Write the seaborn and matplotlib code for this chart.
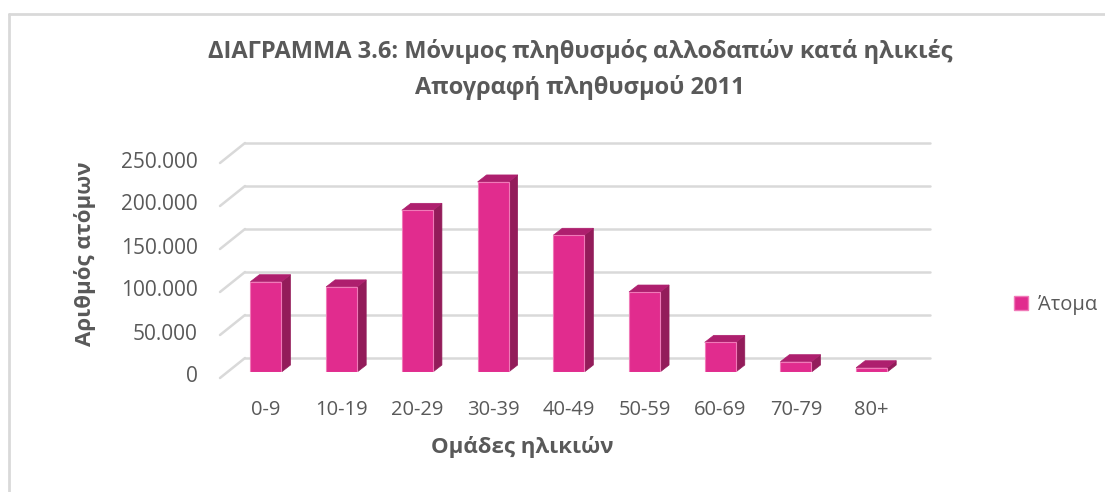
import numpy as np
import pandas as pd
import matplotlib
matplotlib.use("Agg")
import matplotlib.pyplot as plt
import matplotlib.transforms as mtransforms
from matplotlib.patches import Polygon, Rectangle
from matplotlib.lines import Line2D
import seaborn as sns

# Age groups and resident foreign population (persons)
age_groups = ["0-9", "10-19", "20-29", "30-39", "40-49", "50-59", "60-69", "70-79", "80+"]
persons = [105000, 99000, 188000, 221000, 159000, 93000, 34500, 12000, 5000]
y_ticks = [0, 50000, 100000, 150000, 200000, 250000]
y_tick_labels = ["0", "50.000", "100.000", "150.000", "200.000", "250.000"]

df = pd.DataFrame({"group": age_groups, "persons": persons})

sns.set_theme(style="white")
FONT = ["Open Sans", "DejaVu Sans"]
plt.rcParams["font.family"] = FONT

W, H, DPI = 1105, 492, 100
fig = plt.figure(figsize=(W / DPI, H / DPI), dpi=DPI)
fig.patch.set_facecolor("white")

# front plane of the plot area, in pixels
left_px, right_px = 220, 905
bottom_px, top_px = 372, 157
ax = fig.add_axes([left_px / W, 1 - bottom_px / H, (right_px - left_px) / W, (bottom_px - top_px) / H])
ax.patch.set_alpha(0)
for s in ax.spines.values():
    s.set_visible(False)

FRONT = "#E12C8E"
SIDE = "#931C5A"
TOP = "#AE1F6E"
GRID = "#D9D9D9"
TXT = "#595959"

sns.barplot(data=df, x="group", y="persons", ax=ax, color=FRONT, width=0.41,
            saturation=1, edgecolor="#F07AB8", linewidth=0.8, zorder=3, legend=False)

XL, XR = -0.607, 8.44
ax.set_xlim(XL, XR)
ax.set_ylim(0, 250000)

# pixel -> data conversions
px_x = (XR - XL) / (right_px - left_px)
px_y = 250000 / (bottom_px - top_px)

# back wall gridlines with the left-side floor diagonals
for v in y_ticks:
    y_front = v - 6 * px_y
    xb = XL + 25 * px_x
    yb = y_front + 20 * px_y
    ax.add_line(Line2D([XL, xb], [y_front, yb], color=GRID, lw=1.8, zorder=1, clip_on=False))
    ax.add_line(Line2D([xb, XR + 25 * px_x], [yb, yb], color=GRID, lw=1.8, zorder=1, clip_on=False))

# depth faces of each bar
dx, dy = 9 * px_x, 7 * px_y
for p in list(ax.patches):
    if not isinstance(p, Rectangle):
        continue
    x0, w, h = p.get_x(), p.get_width(), p.get_height()
    x1 = x0 + w
    side = Polygon([(x1, 0), (x1 + dx, dy), (x1 + dx, h + dy), (x1, h)], closed=True,
                   facecolor=SIDE, edgecolor=SIDE, lw=0.5, zorder=2.9)
    top = Polygon([(x0, h), (x1, h), (x1 + dx, h + dy), (x0 + dx, h + dy)], closed=True,
                  facecolor=TOP, edgecolor=TOP, lw=0.5, zorder=2.9)
    ax.add_patch(side)
    ax.add_patch(top)

ax.set_yticks(y_ticks)
ax.set_yticklabels(y_tick_labels)
ax.tick_params(axis="y", length=0, pad=16, labelsize=15, labelcolor=TXT)
ax.tick_params(axis="x", length=0, pad=20, labelsize=14.5, labelcolor=TXT)
shift = mtransforms.ScaledTranslation(0, -5 / DPI, fig.dpi_scale_trans)
for lbl in ax.get_yticklabels():
    lbl.set_verticalalignment("center")
    lbl.set_transform(lbl.get_transform() + shift)
ax.set_xlabel("")
ax.set_ylabel("")
ax.grid(False)

fig.text(522 / W, 1 - 447 / H, "Ομάδες ηλικιών", ha="center", va="center",
         fontsize=16, fontweight="bold", color=TXT)
fig.text(85 / W, 1 - 254 / H, "Αριθμός ατόμων", ha="center", va="center", rotation=90,
         fontsize=16, fontweight="bold", color=TXT)

fig.text(580 / W, 1 - 52 / H, "ΔΙΑΓΡΑΜΜΑ 3.6: Μόνιμος πληθυσμός αλλοδαπών κατά ηλικιές",
         ha="center", va="center", fontsize=17, fontweight="bold", color=TXT)
fig.text(580 / W, 1 - 88 / H, "Απογραφή πληθυσμού 2011",
         ha="center", va="center", fontsize=17, fontweight="bold", color=TXT)

# legend
handle = Rectangle((0, 0), 1, 1, facecolor=FRONT, edgecolor="#F07AB8")
fig.legend([handle], ["Άτομα"], loc="center left", bbox_to_anchor=(996 / W, 1 - 305 / H),
           frameon=False, fontsize=14.5, labelcolor=TXT, handlelength=0.7, handleheight=0.7,
           handletextpad=0.5)

# chart frame
fig.add_artist(Line2D([9 / W, 9 / W], [0, 1 - 14 / H], transform=fig.transFigure, color="#D9D9D9", lw=2))
fig.add_artist(Line2D([9 / W, 1], [1 - 14 / H, 1 - 14 / H], transform=fig.transFigure, color="#D9D9D9", lw=2))

fig.savefig("out.png", dpi=DPI, facecolor="white")
